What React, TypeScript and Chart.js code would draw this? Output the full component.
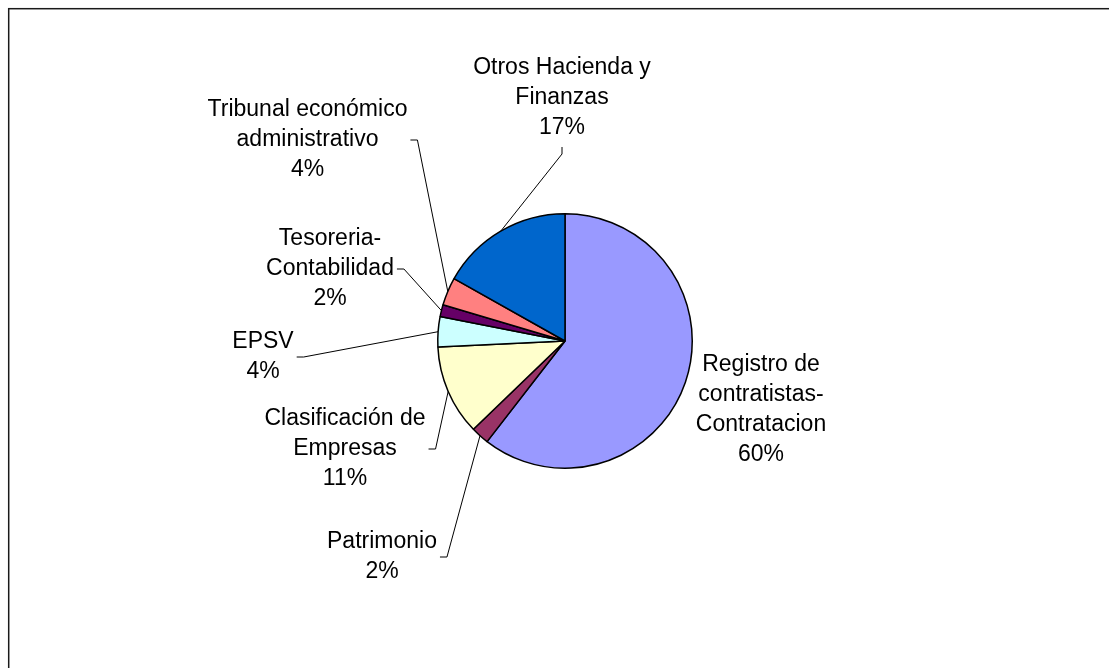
import React, { useEffect, useRef } from "react";
import { Chart, registerables } from "chart.js";

Chart.register(...registerables);

// ---- data ----
const categories: string[] = [
  "Registro de\ncontratistas-\nContratacion",
  "Patrimonio",
  "Clasificación de\nEmpresas",
  "EPSV",
  "Tesoreria-\nContabilidad",
  "Tribunal económico\nadministrativo",
  "Otros Hacienda y\nFinanzas",
];
const values: number[] = [60.49, 2.3, 11.45, 3.85, 1.5, 3.55, 16.86];
const colors: string[] = ["#9999FF", "#993366", "#FFFFCC", "#CCFFFF", "#660066", "#FF8080", "#0066CC"];

// ---- label layout (offset of label centre from pie centre, leader side) ----
const labelDx: number[] = [196, -183, -220, -302, -235, -257.5, -3];
const labelDy: number[] = [69, 216, 108, 16, -72, -201, -243];
const leaderSide: string[] = ["none", "right", "right", "right", "right", "right", "bottom"];

const FONT = '23px "Liberation Sans", Arial, sans-serif';
const LINE_H = 30;

const labelPlugin = {
  id: "pieLabels",
  afterDraw(chart: any) {
    const ctx = chart.ctx as CanvasRenderingContext2D;
    const meta = chart.getDatasetMeta(0);
    const data = chart.data.datasets[0].data as number[];
    const total = data.reduce((a, b) => a + b, 0);
    ctx.save();
    // frame
    ctx.strokeStyle = "#1a1a1a";
    ctx.lineWidth = 1.5;
    ctx.strokeRect(8.7, 8.7, 3000, 3000);

    ctx.font = FONT;
    ctx.textAlign = "center";
    ctx.textBaseline = "alphabetic";
    meta.data.forEach((arc: any, i: number) => {
      const p = arc.getProps(["x", "y", "startAngle", "endAngle", "outerRadius"], true);
      const lines = (chart.data.labels[i] as string).split("\n");
      lines.push(Math.round((data[i] / total) * 100) + "%");
      const cx = p.x + labelDx[i];
      const cy = p.y + labelDy[i];
      const n = lines.length;
      let maxW = 0;
      ctx.fillStyle = "#000";
      lines.forEach((t, k) => {
        const by = cy + 6 + (k - (n - 1) / 2) * LINE_H;
        ctx.fillText(t, cx, by);
        maxW = Math.max(maxW, ctx.measureText(t).width);
      });
      const mid = (p.startAngle + p.endAngle) / 2;
      const ex = p.x + Math.cos(mid) * p.outerRadius;
      const ey = p.y + Math.sin(mid) * p.outerRadius;
      ctx.strokeStyle = "#000";
      ctx.lineWidth = 1;
      if (leaderSide[i] === "right") {
        const sx = cx + maxW / 2 + 3;
        ctx.beginPath();
        ctx.moveTo(sx, cy);
        ctx.lineTo(sx + 7, cy);
        ctx.lineTo(ex, ey);
        ctx.stroke();
      } else if (leaderSide[i] === "bottom") {
        const sy = cy + 6 + ((n - 1) / 2) * LINE_H + 13;
        ctx.beginPath();
        ctx.moveTo(cx, sy);
        ctx.lineTo(cx, sy + 7);
        ctx.lineTo(ex, ey);
        ctx.stroke();
      }
    });
    ctx.restore();
  },
};

export default function App() {
  const ref = useRef<HTMLCanvasElement | null>(null);
  useEffect(() => {
    if (!ref.current) return;
    const chart = new Chart(ref.current, {
      type: "pie",
      data: {
        labels: categories,
        datasets: [
          {
            data: values,
            backgroundColor: colors,
            borderColor: "#000",
            borderWidth: 1.5,
          },
        ],
      },
      options: {
        responsive: false,
        animation: false,
        layout: { padding: { left: 437, right: 416, top: 213, bottom: 199 } },
        plugins: { legend: { display: false }, tooltip: { enabled: false } },
      },
      plugins: [labelPlugin],
    });
    return () => chart.destroy();
  }, []);
  return (
    <div style={{ position: "fixed", left: 0, top: 0, width: 1109, height: 668, background: "#fff" }}>
      <canvas ref={ref} width={1109} height={668} />
    </div>
  );
}
